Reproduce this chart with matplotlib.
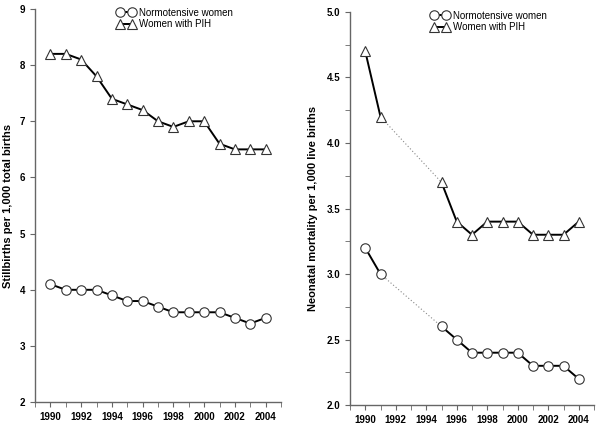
import numpy as np
import matplotlib
matplotlib.use("Agg")
import matplotlib.pyplot as plt
from matplotlib.ticker import MultipleLocator

plt.rcParams["font.family"] = ["Liberation Sans", "DejaVu Sans"]

years = [1990, 1991, 1992, 1993, 1994, 1995, 1996, 1997, 1998, 1999, 2000, 2001, 2002, 2003, 2004]
still_normo = [4.1, 4.0, 4.0, 4.0, 3.9, 3.8, 3.8, 3.7, 3.6, 3.6, 3.6, 3.6, 3.5, 3.4, 3.5]
still_pih = [8.2, 8.2, 8.1, 7.8, 7.4, 7.3, 7.2, 7.0, 6.9, 7.0, 7.0, 6.6, 6.5, 6.5, 6.5]

neo_years = [1990, 1991, 1995, 1996, 1997, 1998, 1999, 2000, 2001, 2002, 2003, 2004]
neo_normo = [3.2, 3.0, 2.6, 2.5, 2.4, 2.4, 2.4, 2.4, 2.3, 2.3, 2.3, 2.2]
neo_pih = [4.7, 4.2, 3.7, 3.4, 3.3, 3.4, 3.4, 3.4, 3.3, 3.3, 3.3, 3.4]

fig = plt.figure(figsize=(6, 4.26), dpi=100)
ax1 = fig.add_axes([35 / 600, 0.056, 246 / 600, 0.923])
ax2 = fig.add_axes([350 / 600, 0.049, 244 / 600, 0.923])

mk = dict(color="black", lw=1.4, markersize=6.8, markerfacecolor="white",
          markeredgecolor="#333333", markeredgewidth=0.8)


def style(ax):
    for s in ["top", "right"]:
        ax.spines[s].set_visible(False)
    for s in ["left", "bottom"]:
        ax.spines[s].set_color("#666666")
        ax.spines[s].set_linewidth(1.0)
    ax.set_xlim(1989, 2005)
    ax.xaxis.set_minor_locator(MultipleLocator(1))
    ax.set_xticks(range(1990, 2005, 2))
    ax.tick_params(which="both", direction="out", color="#666666", labelsize=7, length=3.5)
    for lab in ax.get_xticklabels() + ax.get_yticklabels():
        lab.set_fontweight("bold")


def add_legend(ax):
    ax.legend(loc="upper center", bbox_to_anchor=(0.57, 1.025), frameon=False, fontsize=7,
              handlelength=1.8, handletextpad=0.5, labelspacing=0.15, numpoints=2)


# left panel
ax1.plot(years, still_normo, marker="o", label="Normotensive women", **mk)
ax1.plot(years, still_pih, marker="^", label="Women with PIH", **mk)
ax1.set_ylim(2, 9)
ax1.yaxis.set_major_locator(MultipleLocator(1))
ax1.set_ylabel("Stillbirths per 1,000 total births", fontsize=8, fontweight="bold", labelpad=5)
style(ax1)
add_legend(ax1)

# right panel, gap 1991-1995 drawn dotted
for vals, m, lab in [(neo_normo, "o", "Normotensive women"), (neo_pih, "^", "Women with PIH")]:
    ax2.plot(neo_years[1:3], vals[1:3], color="#888888", lw=0.8, ls=(0, (1, 2)))
    ax2.plot(neo_years[:2], vals[:2], marker=m, label=lab, **mk)
    ax2.plot(neo_years[2:], vals[2:], marker=m, **mk)
ax2.set_ylim(2, 5)
ax2.yaxis.set_major_locator(MultipleLocator(0.5))
ax2.yaxis.set_minor_locator(MultipleLocator(0.25))
ax2.yaxis.set_major_formatter(matplotlib.ticker.FormatStrFormatter("%.1f"))
ax2.set_ylabel("Neonatal mortality per 1,000 live births", fontsize=8, fontweight="bold", labelpad=6)
style(ax2)
add_legend(ax2)

fig.savefig("out.png", dpi=100)
